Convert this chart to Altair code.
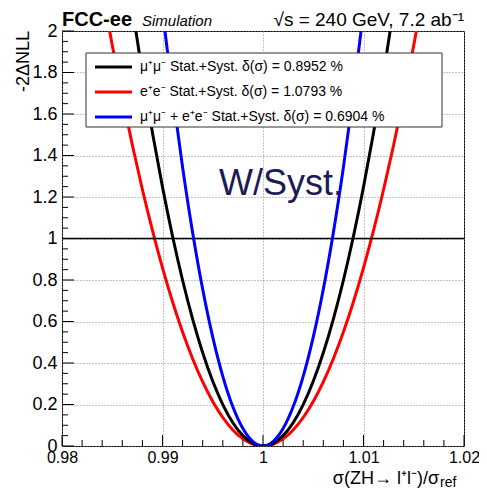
import altair as alt
import pandas as pd

FONT = "Liberation Sans"

# --- curve data ---
mu_x = [0.987, 0.988, 0.989, 0.990, 0.991, 0.992, 0.993, 0.994, 0.995, 0.996, 0.997, 0.998, 0.999,
        1.000, 1.001, 1.002, 1.003, 1.004, 1.005, 1.006, 1.007, 1.008, 1.009, 1.010, 1.011, 1.012, 1.013]
mu_y = [2.1090, 1.7970, 1.5100, 1.2479, 1.0108, 0.7987, 0.6115, 0.4492, 0.3120, 0.1997, 0.1123, 0.0499, 0.0125,
        0.0, 0.0125, 0.0499, 0.1123, 0.1997, 0.3120, 0.4492, 0.6115, 0.7987, 1.0108, 1.2479, 1.5100, 1.7970, 2.1090]

ee_x = [0.984, 0.985, 0.986, 0.987, 0.988, 0.989, 0.990, 0.991, 0.992, 0.993, 0.994, 0.995, 0.996, 0.997, 0.998, 0.999,
        1.000, 1.001, 1.002, 1.003, 1.004, 1.005, 1.006, 1.007, 1.008, 1.009, 1.010, 1.011, 1.012, 1.013, 1.014, 1.015, 1.016]
ee_y = [2.1977, 1.9315, 1.6826, 1.4508, 1.2362, 1.0387, 0.8585, 0.6954, 0.5494, 0.4206, 0.3090, 0.2146, 0.1374, 0.0773, 0.0343, 0.0086,
        0.0, 0.0086, 0.0343, 0.0773, 0.1374, 0.2146, 0.3090, 0.4206, 0.5494, 0.6954, 0.8585, 1.0387, 1.2362, 1.4508, 1.6826, 1.9315, 2.1977]

comb_x = [0.990, 0.991, 0.992, 0.993, 0.994, 0.995, 0.996, 0.997, 0.998, 0.999,
          1.000, 1.001, 1.002, 1.003, 1.004, 1.005, 1.006, 1.007, 1.008, 1.009, 1.010]
comb_y = [2.0979, 1.6993, 1.3427, 1.0280, 0.7552, 0.5245, 0.3357, 0.1888, 0.0839, 0.0210,
          0.0, 0.0210, 0.0839, 0.1888, 0.3357, 0.5245, 0.7552, 1.0280, 1.3427, 1.6993, 2.0979]

legend_labels = [
    "μ⁺μ⁻ Stat.+Syst. δ(σ) = 0.8952 %",
    "e⁺e⁻ Stat.+Syst. δ(σ) = 1.0793 %",
    "μ⁺μ⁻ + e⁺e⁻ Stat.+Syst. δ(σ) = 0.6904 %",
]
legend_colors = ["#000000", "#ff0000", "#0000ff"]

x_ticks = [0.98, 0.99, 1.0, 1.01, 1.02]
x_minor = [0.982, 0.984, 0.986, 0.988, 0.992, 0.994, 0.996, 0.998,
           1.002, 1.004, 1.006, 1.008, 1.012, 1.014, 1.016, 1.018]
y_ticks = [0, 0.2, 0.4, 0.6, 0.8, 1.0, 1.2, 1.4, 1.6, 1.8, 2.0]
y_minor = [0.05, 0.1, 0.15, 0.25, 0.3, 0.35, 0.45, 0.5, 0.55, 0.65, 0.7, 0.75,
           0.85, 0.9, 0.95, 1.05, 1.1, 1.15, 1.25, 1.3, 1.35, 1.45, 1.5, 1.55,
           1.65, 1.7, 1.75, 1.85, 1.9, 1.95]

W, H = 402, 415

xs = alt.Scale(domain=[0.98, 1.02], nice=False, zero=False)
ys = alt.Scale(domain=[0, 2], nice=False, zero=False)
xax = alt.Axis(values=x_ticks, format="~g", title=None, grid=True, labelFlush=False,
               labelPadding=3, labelFontSize=16)
yax = alt.Axis(values=y_ticks, format="~g", title=None, grid=True, labelFlush=False,
               labelPadding=5, labelFontSize=18)


def curve(xv, yv, color):
    df = pd.DataFrame({"x": xv, "y": yv})
    return alt.Chart(df).mark_line(color=color, strokeWidth=3, clip=True, interpolate="monotone").encode(
        x=alt.X("x:Q", scale=xs, axis=xax),
        y=alt.Y("y:Q", scale=ys, axis=yax),
    )


one = pd.DataFrame({"a": [0]})

hline = alt.Chart(pd.DataFrame({"y": [1.0]})).mark_rule(color="black", strokeWidth=1.5).encode(
    y=alt.Y("y:Q", scale=ys, axis=yax), x=alt.value(0), x2=alt.value(W))

ytick_major = alt.Chart(pd.DataFrame({"y": y_ticks})).mark_rule(color="black", strokeWidth=1).encode(
    y=alt.Y("y:Q", scale=ys, axis=yax), x=alt.value(0), x2=alt.value(12))
ytick_minor = alt.Chart(pd.DataFrame({"y": y_minor})).mark_rule(color="black", strokeWidth=1).encode(
    y=alt.Y("y:Q", scale=ys, axis=yax), x=alt.value(0), x2=alt.value(6))
xtick_major = alt.Chart(pd.DataFrame({"x": x_ticks})).mark_rule(color="black", strokeWidth=1).encode(
    x=alt.X("x:Q", scale=xs, axis=xax), y=alt.value(H), y2=alt.value(H - 11))
xtick_minor = alt.Chart(pd.DataFrame({"x": x_minor})).mark_rule(color="black", strokeWidth=1).encode(
    x=alt.X("x:Q", scale=xs, axis=xax), y=alt.value(H), y2=alt.value(H - 6))

legend_box = alt.Chart(one).mark_rect(fill="white", stroke="#333333", strokeWidth=1).encode(
    x=alt.value(24), x2=alt.value(380), y=alt.value(22), y2=alt.value(96))

legend_layers = []
rows = [36, 61, 86]
for lab, col, ry in zip(legend_labels, legend_colors, rows):
    legend_layers.append(alt.Chart(one).mark_rule(color=col, strokeWidth=3).encode(
        x=alt.value(33), x2=alt.value(70), y=alt.value(ry)))
    legend_layers.append(alt.Chart(one).mark_text(
        text=lab, align="left", baseline="middle", font=FONT, fontSize=14, color="black").encode(
        x=alt.value(78), y=alt.value(ry)))


def txt(t, x, y, size, **kw):
    return alt.Chart(one).mark_text(text=t, font=FONT, fontSize=size, **kw).encode(
        x=alt.value(x), y=alt.value(y))


texts = [
    txt("FCC-ee", 0, -5, 20, align="left", baseline="alphabetic", fontWeight="bold", color="black"),
    txt("Simulation", 80, -5, 15, align="left", baseline="alphabetic", fontStyle="italic", color="black"),
    txt("√s = 240 GeV,  7.2 ab⁻¹", W, -5, 19, align="right", baseline="alphabetic", color="black"),
    txt("-2ΔNLL", -38, 0, 18, align="right", baseline="middle", angle=270, color="black"),
    txt("σ(ZH→ l⁺l⁻)/σ", W - 25, 453, 18, align="right", baseline="alphabetic", color="black"),
    txt("ref", W - 24, 456, 14, align="left", baseline="alphabetic", color="black"),
    txt("W/Syst.", 157, 164, 36, align="left", baseline="alphabetic", color="#1b1b55"),
]

chart = alt.layer(
    curve(ee_x, ee_y, "#ff0000"),
    hline,
    curve(mu_x, mu_y, "#000000"),
    curve(comb_x, comb_y, "#0000ff"),
    ytick_major, ytick_minor, xtick_major, xtick_minor,
    legend_box,
    *legend_layers,
    *texts,
).properties(
    width=W, height=H,
    autosize=alt.AutoSizeParams(type="none"),
    padding={"left": 54, "top": 23, "right": 15, "bottom": 45},
).configure_view(
    stroke="black", strokeWidth=1
).configure_axis(
    domain=False, ticks=False, tickSize=0,
    labelFont=FONT, labelColor="black",
    gridColor="#888888", gridDash=[1, 2], gridWidth=1, gridOpacity=1,
)

chart.save("out.html", embed_options={"renderer": "svg", "actions": False})
